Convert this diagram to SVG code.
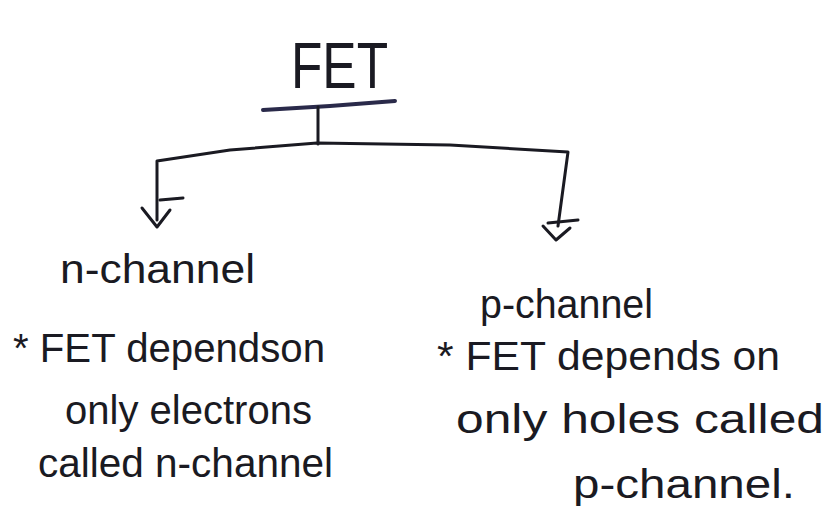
<svg xmlns="http://www.w3.org/2000/svg" width="827" height="523" viewBox="0 0 827 523">
<style>
.t{font-family:"Liberation Sans","DejaVu Sans",sans-serif;fill:#1a1a22;font-size:41px;}
.big{font-size:64px;}
.ln{fill:none;stroke:#1a1a22;stroke-width:3;stroke-linecap:round;stroke-linejoin:round;}
</style>
<rect width="827" height="523" fill="#ffffff"/>
<g id="node-fet">
<text class="t big" x="291" y="88" textLength="97" lengthAdjust="spacingAndGlyphs">FET</text>
<path class="ln" d="M263 110 L330 106 L395 101" style="stroke:#2a2a4a;stroke-width:4"/>
</g>
<g id="connectors">
<path class="ln" d="M318 107 L318 144"/>
<path class="ln" d="M157 220 L157 161 L230 150 L317 143 L450 145 L568 152 L558 226"/>
<path class="ln" d="M160 200 L183 198 M142 208 L157 227 L170 210"/>
<path class="ln" d="M548 223 L578 220 M543 226 L556 240 L570 228"/>
</g>
<g id="node-n">
<text class="t" x="60" y="283" textLength="195" lengthAdjust="spacingAndGlyphs">n-channel</text>
<text class="t" x="13" y="362" textLength="312" lengthAdjust="spacingAndGlyphs">* FET dependson</text>
<text class="t" x="65" y="424" textLength="247" lengthAdjust="spacingAndGlyphs">only electrons</text>
<text class="t" x="38" y="477" textLength="295" lengthAdjust="spacingAndGlyphs">called n-channel</text>
</g>
<g id="node-p">
<text class="t" x="480" y="318" textLength="173" lengthAdjust="spacingAndGlyphs">p-channel</text>
<text class="t" x="437" y="370" textLength="343" lengthAdjust="spacingAndGlyphs">* FET depends on</text>
<text class="t" x="456" y="433" textLength="368" lengthAdjust="spacingAndGlyphs">only holes called</text>
<text class="t" x="573" y="498" textLength="222" lengthAdjust="spacingAndGlyphs">p-channel.</text>
</g>
</svg>
